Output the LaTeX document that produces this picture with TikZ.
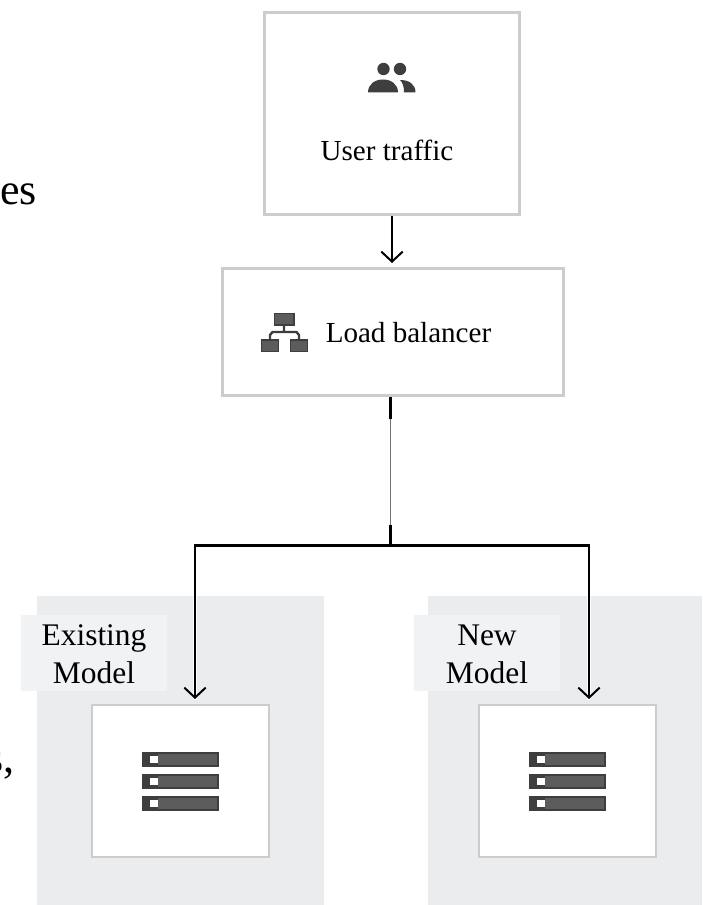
\documentclass[tikz,border=0pt]{standalone}
\usepackage{fontspec}
\setmainfont{Liberation Serif}
\usetikzlibrary{arrows.meta}
\definecolor{panelgray}{HTML}{EBECEE}
\definecolor{labelgray}{HTML}{F1F2F3}
\definecolor{boxline}{HTML}{CCCCCC}
\definecolor{icondark}{HTML}{3E3E3E}
\definecolor{iconfill}{HTML}{5C5C5C}
\tikzset{
  panel/.style={fill=panelgray,draw=none},
  whitebox/.style={fill=white,draw=boxline,line width=1.9pt},
  modelbox/.style={fill=white,draw=boxline,line width=1.3pt},
  tagbox/.style={fill=labelgray,draw=none},
  lbl/.style={inner sep=0pt,font=\fontsize{21.8pt}{26pt}\selectfont},
  tag/.style={inner sep=0pt,align=center,font=\fontsize{23.6pt}{28.4pt}\selectfont},
  bodytext/.style={inner sep=0pt,anchor=base east,font=\fontsize{33pt}{36pt}\selectfont},
  conn/.style={draw=black,line width=1.6pt},
  halo/.style={draw=white,line width=3.6pt},
  tip/.style={-{Straight Barb[length=7.5pt,width=16pt,line width=1.5pt]}},
  iconpart/.style={fill=iconfill,draw=icondark,line width=1.1pt},
}
\newcommand{\serverbars}[2]{%
  \foreach \yy in {0,22,44}{
    \fill[icondark] (#1,#2+\yy) rectangle (#1+77,#2+\yy+14.5);
    \fill[iconfill] (#1+16,#2+\yy+2) rectangle (#1+75,#2+\yy+12.5);
    \fill[white] (#1+8,#2+\yy+3.5) rectangle (#1+16,#2+\yy+11);
  }%
}
\begin{document}
\begin{tikzpicture}[x=0.75pt,y=-0.75pt]
\useasboundingbox (0,0) rectangle (702,905);
\fill[white] (0,0) rectangle (702,905);
% clipped background text
\begin{scope}
\clip (0,0) rectangle (702,905);
\node[bodytext] (bg1) at (37,205) {es};
\node[bodytext] (bg2) at (15,772) {s,};
\end{scope}
% panels
\path[panel] (37,596) rectangle (324,905);
\path[panel] (428,596) rectangle (702,905);
\path[tagbox] (21,615) rectangle (167,691);
\path[tagbox] (414,615) rectangle (560,691);
\node[tag] (existing) at (94,654) {Existing\\Model};
\node[tag] (newmodel) at (487,654) {New\\Model};
% boxes
\node[whitebox,minimum width=258\pgflinewidth*0+193.5pt-1.9pt,minimum height=153.75pt-1.9pt,inner sep=0pt] (user) at (392,113.5) {};
\node[whitebox,minimum width=258pt-1.9pt,minimum height=97.5pt-1.9pt,inner sep=0pt] (lb) at (393,332) {};
\node[modelbox,minimum width=134.25pt-1.3pt,minimum height=115.5pt-1.3pt,inner sep=0pt] (oldm) at (180.5,781) {};
\node[modelbox,minimum width=134.25pt-1.3pt,minimum height=115.5pt-1.3pt,inner sep=0pt] (newm) at (567.5,781) {};
\node[lbl,anchor=base] (usertxt) at (387,161) {User traffic};
\node[lbl,anchor=base west] (lbtxt) at (325.5,342) {Load balancer};
% connectors
\coordinate (j) at (390.5,545.5);
\coordinate (ja) at (390.5,419);
\coordinate (jb) at (390.5,525);
\coordinate (lbout) at (390.5,397);
\coordinate (hl) at (195,545.5);
\coordinate (hr) at (589,545.5);
\draw[halo] (195,596) -- (195,700);
\draw[halo] (589,596) -- (589,700);
\draw[black,line width=1.2pt,tip] (392,216.5) -- (392,263);
\draw[conn] (lbout) -- (ja);
\draw[black!55,line width=0.6pt] (ja) -- (jb);
\draw[conn] (jb) -- (j);
\draw[conn,line join=miter,tip] (j) -- (hl) -- (195,699);
\draw[conn,line join=miter,tip] (j) -- (hr) -- (589,699);
% people icon
\fill[icondark] (383.5,69) circle (6.2);
\fill[icondark] (400,69) circle (6.2);
\fill[icondark] (368,92.5) .. controls (368,84) and (375,79.5) .. (383,79.5) .. controls (391,79.5) and (398,84) .. (398,92.5) -- cycle;
\fill[icondark] (400,80) .. controls (409,80) and (415.5,84) .. (415.5,92.5) -- (404,92.5) .. controls (404,87) and (403,83) .. (400,80) -- cycle;
% load balancer icon
\draw[icondark,line width=1.8pt,line join=round] (284,325) -- (284,331) (270,339) -- (270,335) -- (272.5,332) -- (296.5,332) -- (299,335) -- (299,339);
\path[iconpart] (274.5,313.5) rectangle (294,325);
\path[iconpart] (261.5,340) rectangle (278.5,351.5);
\path[iconpart] (290.5,340) rectangle (307.5,351.5);
% server icons
\serverbars{142}{752}
\serverbars{529}{752}
\end{tikzpicture}
\end{document}
